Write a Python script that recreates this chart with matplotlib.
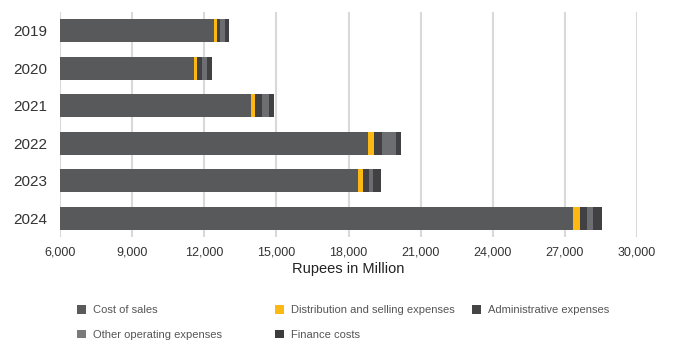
import matplotlib.pyplot as plt
from matplotlib.patches import Patch
from matplotlib.ticker import FuncFormatter
import numpy as np

plt.rcParams['font.family'] = ['Liberation Sans', 'DejaVu Sans']

years = ['2019', '2020', '2021', '2022', '2023', '2024']
cost_of_sales = [12418, 11574, 13945, 18812, 18396, 27352]
distribution = [113, 104, 154, 262, 220, 279]
administrative = [125, 228, 316, 320, 250, 304]
other_operating = [208, 196, 266, 583, 167, 223]
finance_costs = [179, 208, 208, 195, 307, 400]

series = [
    ('Cost of sales', cost_of_sales, '#58595b'),
    ('Distribution and selling expenses', distribution, '#fdb913'),
    ('Administrative expenses', administrative, '#414042'),
    ('Other operating expenses', other_operating, '#6d6e71'),
    ('Finance costs', finance_costs, '#414042'),
]
legend_colors = ['#5a5a5a', '#fdb913', '#454545', '#7a7a7a', '#3c3c3c']

fig = plt.figure(figsize=(6.75, 3.43), dpi=100)
ax = fig.add_axes([60 / 675, 1 - 237 / 343, 577 / 675, 225 / 343])

y = np.arange(len(years))
left = np.zeros(len(years))
for name, vals, color in series:
    ax.barh(y, vals, left=left, height=0.61, color=color, label=name, zorder=3)
    left += np.array(vals)

ax.set_xlim(6000, 30000)
ax.set_ylim(len(years) - 0.5, -0.5)
ax.set_xticks(np.arange(6000, 30001, 3000))
ax.xaxis.set_major_formatter(FuncFormatter(lambda v, p: f'{int(v):,}'))
ax.set_yticks(y)
ax.set_yticklabels(years, fontsize=11, color='#333333')
ax.tick_params(axis='x', labelsize=9, colors='#333333', length=0, pad=7)
ax.tick_params(axis='y', length=0, pad=9)
ax.grid(axis='x', color='#d9d9d9', linewidth=1.5, zorder=0)
for s in ax.spines.values():
    s.set_visible(False)
ax.set_xlabel('Rupees in Million', fontsize=10.5, color='#222222', labelpad=2)

# legend laid out in three columns
cols = [(77, [0, 3]), (275, [1, 4]), (472, [2])]
for x0, idx in cols:
    handles = [Patch(facecolor=legend_colors[i], edgecolor='none') for i in idx]
    labels = [series[i][0] for i in idx]
    fig.legend(handles, labels, loc='upper left',
               bbox_to_anchor=(x0 / 675, 1 - 305 / 343), frameon=False,
               fontsize=8, labelcolor='#555555', handlelength=0.8,
               handleheight=0.8, handletextpad=0.6, labelspacing=1.3,
               borderpad=0, borderaxespad=0)

fig.savefig('out.png', dpi=100)
